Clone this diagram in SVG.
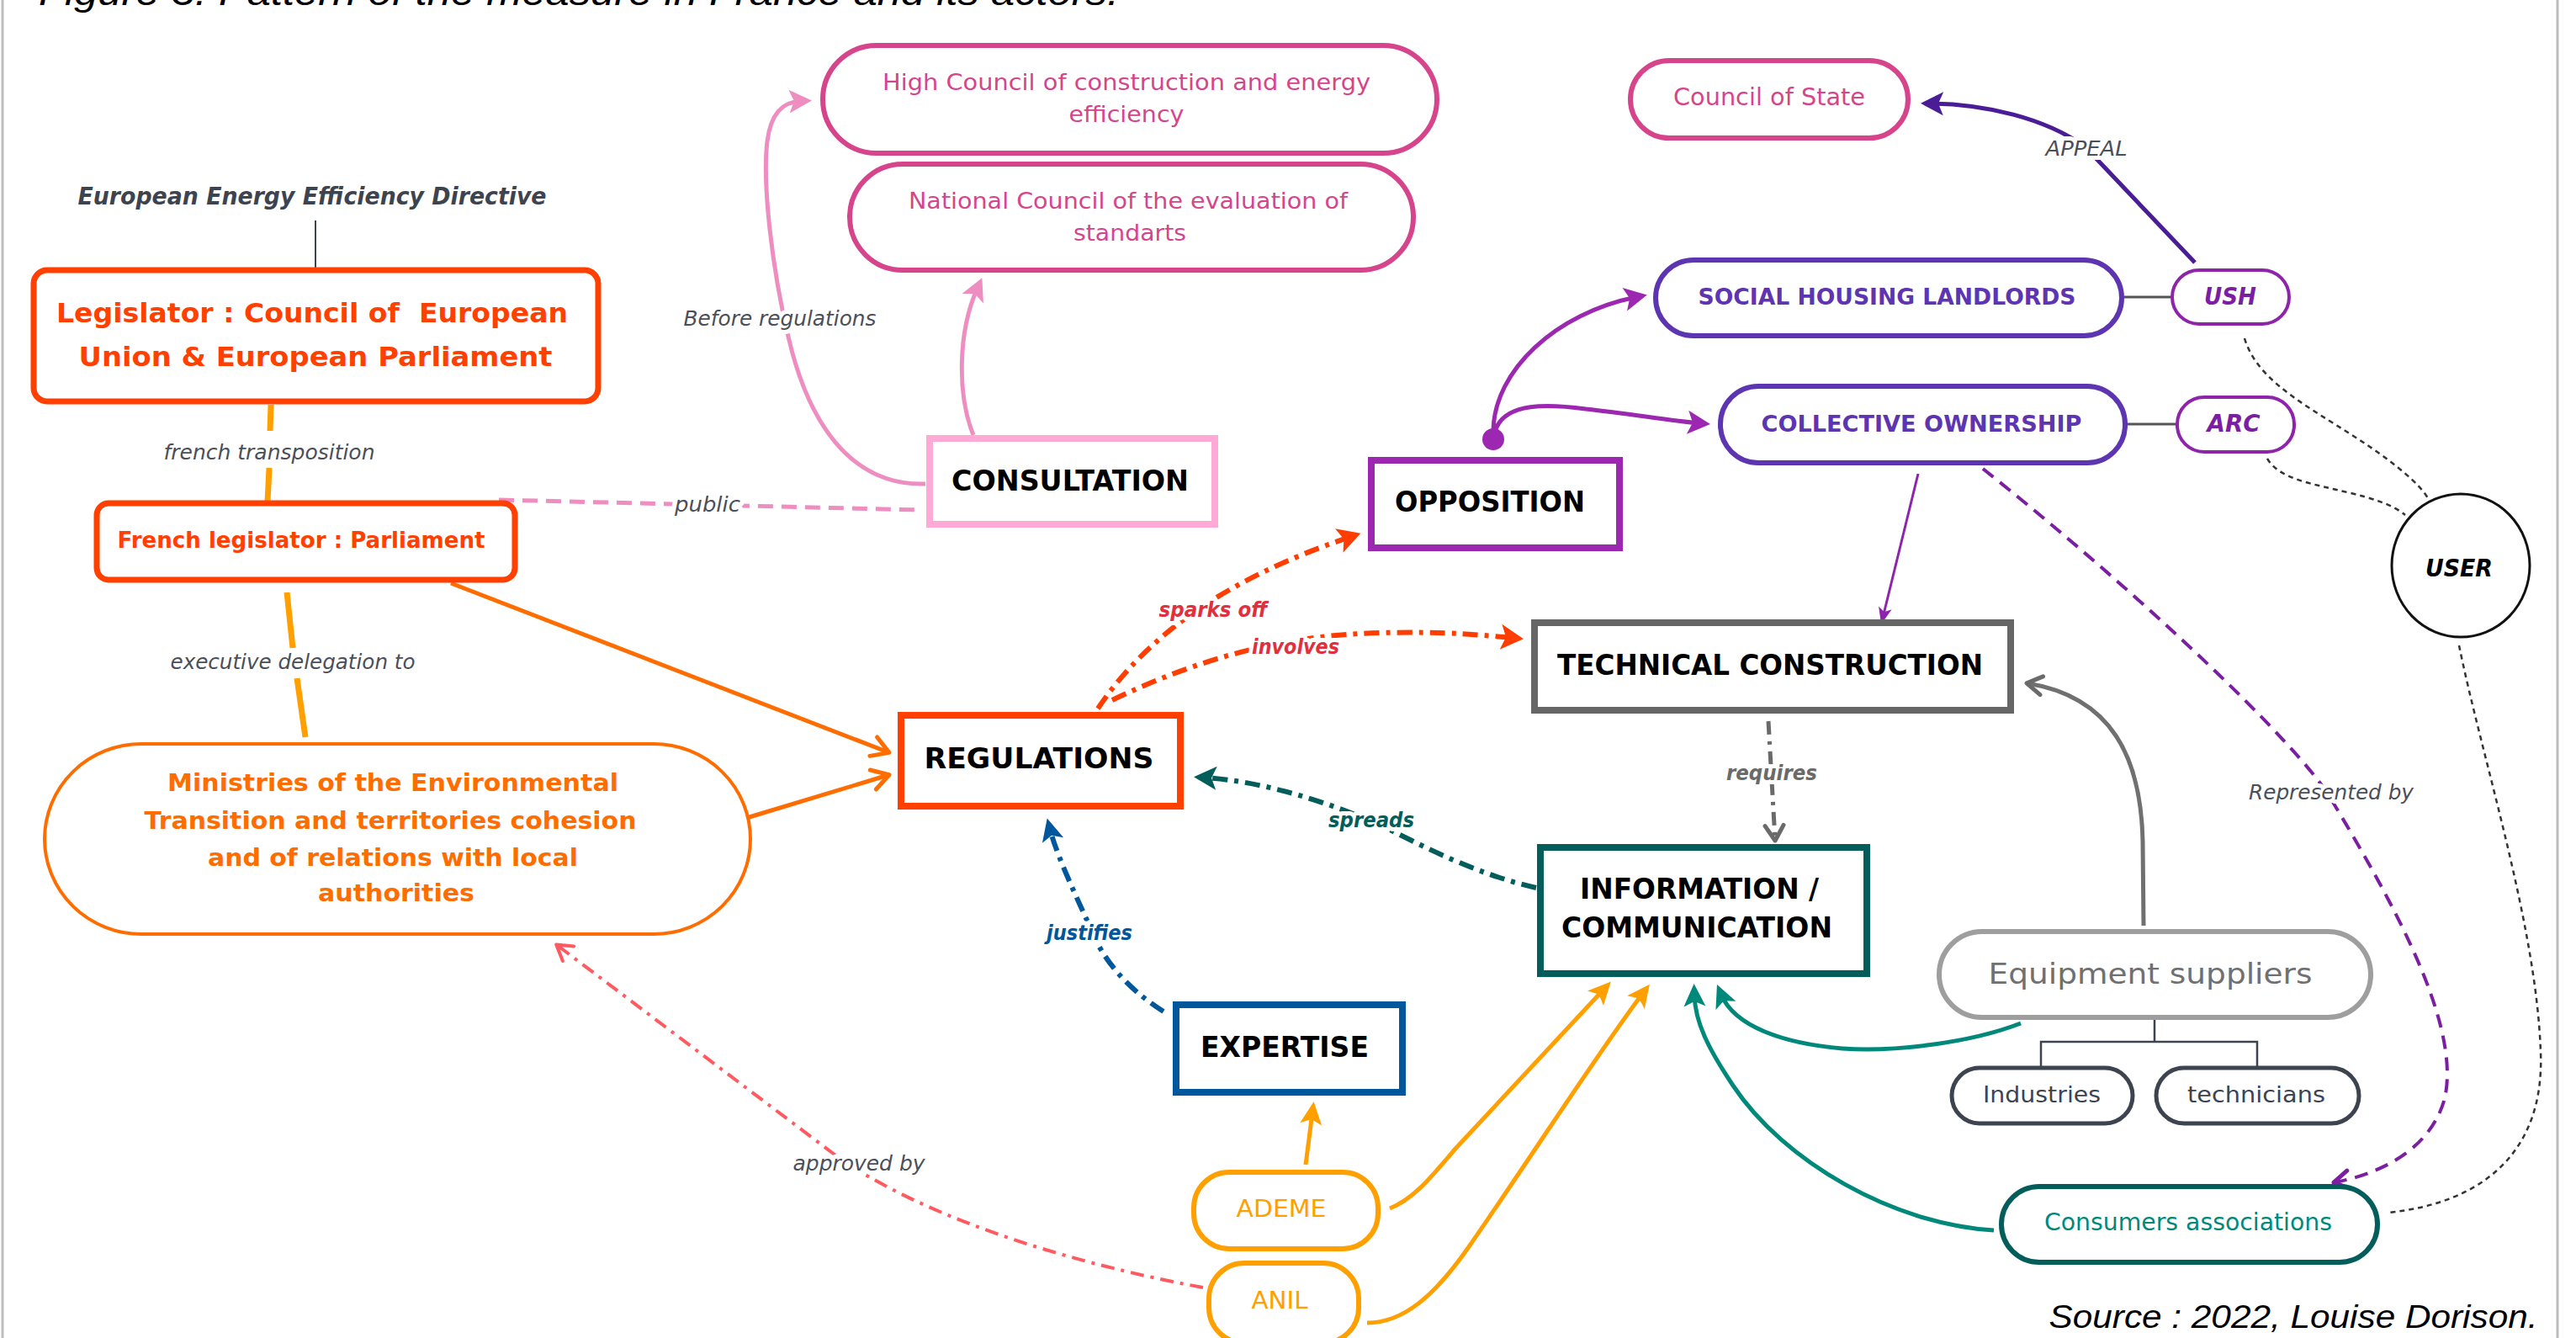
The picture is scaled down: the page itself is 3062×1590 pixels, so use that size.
<svg xmlns="http://www.w3.org/2000/svg" width="3062" height="1590" viewBox="0 0 3062 1590">
<style>
text{font-family:"DejaVu Sans",sans-serif;text-anchor:middle}
.b{font-weight:bold}
.i{font-style:italic}
.lbl{font-style:italic;fill:#4a4f5a;font-size:24px;stroke:#fff;stroke-width:10px;paint-order:stroke;stroke-linejoin:round}
.halo{stroke:#fff;stroke-width:10px;paint-order:stroke;stroke-linejoin:round}
.box{fill:#fff}
.c{fill:none;stroke-linecap:butt}
.dd{stroke-dasharray:18 8 5 8}
.dot{fill:none;stroke:#333;stroke-width:2.5;stroke-dasharray:6 5}
</style>
<defs>
<marker id="chevO" viewBox="-24 -16 30 32" markerWidth="30" markerHeight="32" refX="0" refY="0" orient="auto" markerUnits="userSpaceOnUse"><path d="M-19,-12 L1,0 L-19,12" fill="none" stroke="#ff6d00" stroke-width="5" stroke-linecap="round" stroke-linejoin="round"/></marker>
<marker id="chevG" viewBox="-24 -16 30 32" markerWidth="30" markerHeight="32" refX="0" refY="0" orient="auto" markerUnits="userSpaceOnUse"><path d="M-17,-11 L1,0 L-17,11" fill="none" stroke="#6a6a6a" stroke-width="5" stroke-linecap="round" stroke-linejoin="round"/></marker>
<marker id="chevV" viewBox="-24 -16 30 32" markerWidth="30" markerHeight="32" refX="0" refY="0" orient="auto" markerUnits="userSpaceOnUse"><path d="M-17,-11 L1,0 L-17,11" fill="none" stroke="#7b1fa2" stroke-width="5" stroke-linecap="round" stroke-linejoin="round"/></marker>
<marker id="chevC" viewBox="-24 -16 30 32" markerWidth="30" markerHeight="32" refX="0" refY="0" orient="auto" markerUnits="userSpaceOnUse"><path d="M-17,-11 L1,0 L-17,11" fill="none" stroke="#ff5a5f" stroke-width="4" stroke-linecap="round" stroke-linejoin="round"/></marker>
<marker id="triPink" viewBox="-20 -16 36 32" markerWidth="36" markerHeight="32" refX="0" refY="0" orient="auto" markerUnits="userSpaceOnUse"><path d="M13,0 L-14,-14 L-8,0 L-14,14 Z" fill="#ee8ec0"/></marker>
<marker id="triPur" viewBox="-20 -16 36 32" markerWidth="36" markerHeight="32" refX="0" refY="0" orient="auto" markerUnits="userSpaceOnUse"><path d="M13,0 L-14,-14 L-8,0 L-14,14 Z" fill="#9c27b0"/></marker>
<marker id="triPur2" viewBox="-20 -16 36 32" markerWidth="36" markerHeight="32" refX="0" refY="0" orient="auto" markerUnits="userSpaceOnUse"><path d="M8,0 L-12,-8 L-7,0 L-12,8 Z" fill="#8e24aa"/></marker>
<marker id="triDP" viewBox="-20 -16 36 32" markerWidth="36" markerHeight="32" refX="0" refY="0" orient="auto" markerUnits="userSpaceOnUse"><path d="M13,0 L-14,-14 L-8,0 L-14,14 Z" fill="#4a1d96"/></marker>
<marker id="triRed" viewBox="-20 -16 36 32" markerWidth="36" markerHeight="32" refX="0" refY="0" orient="auto" markerUnits="userSpaceOnUse"><path d="M13,0 L-14,-15 L-8,0 L-14,15 Z" fill="#ff3d00"/></marker>
<marker id="triDT" viewBox="-20 -16 36 32" markerWidth="36" markerHeight="32" refX="0" refY="0" orient="auto" markerUnits="userSpaceOnUse"><path d="M13,0 L-14,-14 L-8,0 L-14,14 Z" fill="#035e5b"/></marker>
<marker id="triBlue" viewBox="-20 -16 36 32" markerWidth="36" markerHeight="32" refX="0" refY="0" orient="auto" markerUnits="userSpaceOnUse"><path d="M13,0 L-14,-13 L-8,0 L-14,13 Z" fill="#01579b"/></marker>
<marker id="triAmb" viewBox="-20 -16 36 32" markerWidth="36" markerHeight="32" refX="0" refY="0" orient="auto" markerUnits="userSpaceOnUse"><path d="M13,0 L-14,-13 L-8,0 L-14,13 Z" fill="#ffa000"/></marker>
<marker id="triTeal" viewBox="-20 -16 36 32" markerWidth="36" markerHeight="32" refX="0" refY="0" orient="auto" markerUnits="userSpaceOnUse"><path d="M13,0 L-14,-13 L-8,0 L-14,13 Z" fill="#00897b"/></marker>
</defs>

<rect width="3062" height="1590" fill="#fff"/>
<line x1="3" y1="0" x2="3" y2="1590" stroke="#bdbdbd" stroke-width="3"/>
<line x1="3040" y1="0" x2="3040" y2="1590" stroke="#bdbdbd" stroke-width="3"/>

<g id="title">
<text x="688" y="6" style="font-family:'Liberation Sans',Arial,sans-serif;font-style:italic;font-size:44px" textLength="1284" lengthAdjust="spacingAndGlyphs" fill="#000">Figure 3. Pattern of the measure in France and its actors.</text>
</g>

<g id="connectors">
<line x1="375" y1="262" x2="375" y2="320" stroke="#3d4450" stroke-width="2"/>
<path class="c" d="M322,481 L321,512 M320,556 L318,597" stroke="#ffa000" stroke-width="7"/>
<path class="c" d="M341,704 L348,770 M353,806 L363,876" stroke="#ffa000" stroke-width="7"/>
<path class="c" d="M593,594 L1094,606" stroke="#ee8ec0" stroke-width="5" stroke-dasharray="18 10"/>
<path class="c" d="M536,693 L1056,894" stroke="#ff6d00" stroke-width="5" marker-end="url(#chevO)"/>
<path class="c" d="M884,973 L1056,921" stroke="#ff6d00" stroke-width="5" marker-end="url(#chevO)"/>
<path class="c" d="M1157,517 C1138,470 1138,395 1162,342" stroke="#ee8ec0" stroke-width="5" marker-end="url(#triPink)"/>
<path class="c" d="M1100,575 C1010,578 960,500 937,400 C918,320 906,220 912,168 C916,135 930,121 952,120" stroke="#ee8ec0" stroke-width="5" marker-end="url(#triPink)"/>
<path class="c" d="M2609,312 L2478,174 C2430,140 2360,124 2296,123" stroke="#4a1d96" stroke-width="5" marker-end="url(#triDP)"/>
<path class="c" d="M1775,512 C1776,440 1850,372 1945,353" stroke="#9c27b0" stroke-width="5" marker-end="url(#triPur)"/>
<path class="c" d="M1778,510 C1790,478 1840,480 1885,486 C1940,492 1985,500 2020,503" stroke="#9c27b0" stroke-width="5" marker-end="url(#triPur)"/>
<path class="c" d="M2280,563 L2238,734" stroke="#8e24aa" stroke-width="3" marker-end="url(#triPur2)"/>
<path class="c" d="M2357,557 C2500,670 2700,850 2765,940 C2850,1080 2925,1220 2906,1305 C2890,1365 2830,1395 2775,1405" stroke="#7b1fa2" stroke-width="4" stroke-dasharray="16 10" marker-end="url(#chevV)"/>
<path class="dot" d="M2668,402 C2685,460 2760,490 2830,540 C2860,562 2880,580 2887,594"/>
<path class="dot" d="M2695,545 C2710,570 2750,575 2790,585 C2820,592 2845,600 2859,612"/>
<path class="dot" d="M2923,767 C2950,900 3015,1100 3020,1250 C3025,1370 2950,1430 2838,1441"/>
<path class="c" d="M2102,857 L2110,998" stroke="#6a6a6a" stroke-width="5" stroke-dasharray="16 8 4 8" marker-end="url(#chevG)"/>
<path class="c" d="M2548,1100 L2547,1000 C2545,900 2510,828 2410,812" stroke="#707070" stroke-width="5" marker-end="url(#chevG)"/>
<path class="c" d="M2402,1216 C2340,1240 2250,1250 2190,1246 C2120,1240 2062,1220 2046,1182" stroke="#00897b" stroke-width="5" marker-end="url(#triTeal)"/>
<path class="c" d="M2370,1462 C2250,1455 2120,1380 2060,1290 C2030,1245 2015,1215 2014,1182" stroke="#00897b" stroke-width="5" marker-end="url(#triTeal)"/>
<path class="c" d="M1652,1436 C1680,1425 1700,1400 1730,1365 L1906,1176" stroke="#ffa000" stroke-width="5" marker-end="url(#triAmb)"/>
<path class="c" d="M1625,1572 C1668,1572 1705,1540 1745,1483 C1820,1375 1900,1250 1953,1180" stroke="#ffa000" stroke-width="5" marker-end="url(#triAmb)"/>
<path class="c" d="M1552,1384 L1560,1322" stroke="#ffa000" stroke-width="5" marker-end="url(#triAmb)"/>
<path class="c dd" d="M1826,1055 C1760,1040 1700,1010 1660,990 C1590,955 1500,928 1432,924" stroke="#035e5b" stroke-width="6" marker-end="url(#triDT)"/>
<path class="c dd" d="M1383,1202 C1340,1175 1310,1140 1295,1100 C1272,1050 1255,1012 1248,985" stroke="#01579b" stroke-width="6" marker-end="url(#triBlue)"/>
<path class="c dd" d="M1305,842 C1360,760 1450,690 1605,638" stroke="#ff3d00" stroke-width="6" marker-end="url(#triRed)"/>
<path class="c dd" d="M1322,832 C1420,785 1520,755 1640,752 C1720,750 1765,755 1798,758" stroke="#ff3d00" stroke-width="6" marker-end="url(#triRed)"/>
<path class="c" d="M1430,1530 C1330,1512 1130,1465 1000,1378 L662,1123" stroke="#ff5a5f" stroke-width="4" stroke-dasharray="16 8 4 8" marker-end="url(#chevC)"/>
<line x1="2522" y1="353" x2="2582" y2="353" stroke="#555" stroke-width="3"/>
<line x1="2526" y1="504" x2="2588" y2="504" stroke="#555" stroke-width="3"/>
<path class="c" d="M2561,1212 L2561,1238 M2426,1267 L2426,1238 L2683,1238 L2683,1267" stroke="#3d4450" stroke-width="2.5"/>
<circle cx="1775" cy="522" r="13" fill="#9c27b0"/>

<text class="lbl" x="320" y="546" textLength="251" lengthAdjust="spacingAndGlyphs">french transposition</text>
<text class="lbl" x="348" y="795" textLength="291" lengthAdjust="spacingAndGlyphs">executive delegation to</text>
<text class="lbl" x="841" y="608" textLength="78" lengthAdjust="spacingAndGlyphs">public</text>
<text class="lbl" x="927" y="387" textLength="229" lengthAdjust="spacingAndGlyphs">Before regulations</text>
<text class="lbl" x="2480" y="185" textLength="97" lengthAdjust="spacingAndGlyphs">APPEAL</text>
<text class="lbl" x="2771" y="950" textLength="196" lengthAdjust="spacingAndGlyphs">Represented by</text>
<text class="lbl" x="1021" y="1391" textLength="157" lengthAdjust="spacingAndGlyphs">approved by</text>
<text class="b i halo" x="2106" y="927" font-size="24" fill="#6a6a6a" textLength="108" lengthAdjust="spacingAndGlyphs">requires</text>
<text class="b i halo" x="1442" y="733" font-size="25" fill="#e0303e" textLength="129" lengthAdjust="spacingAndGlyphs">sparks off</text>
<text class="b i halo" x="1540" y="777" font-size="25" fill="#e0303e" textLength="104" lengthAdjust="spacingAndGlyphs">involves</text>
<text class="b i halo" x="1630" y="983" font-size="25" fill="#035e5b" textLength="102" lengthAdjust="spacingAndGlyphs">spreads</text>
<text class="b i halo" x="1295" y="1117" font-size="25" fill="#01579b" textLength="102" lengthAdjust="spacingAndGlyphs">justifies</text>
</g>

<g id="node-directive">
<text class="b i" x="371" y="243" font-size="28" fill="#3d4450" textLength="557" lengthAdjust="spacingAndGlyphs">European Energy Efficiency Directive</text>
</g>

<g id="node-legislator">
<rect class="box" x="40" y="321" width="671" height="156" rx="16" stroke="#ff4000" stroke-width="7"/>
<text class="b" x="371" y="383" font-size="32" fill="#ff4000" textLength="608" lengthAdjust="spacingAndGlyphs" xml:space="preserve">Legislator : Council of  European</text>
<text class="b" x="375" y="435" font-size="32" fill="#ff4000" textLength="563" lengthAdjust="spacingAndGlyphs">Union &amp; European Parliament</text>
</g>

<g id="node-french-legislator">
<rect class="box" x="115" y="598" width="497" height="91" rx="14" stroke="#ff4000" stroke-width="7"/>
<text class="b" x="358" y="651" font-size="27" fill="#ff4000" textLength="437" lengthAdjust="spacingAndGlyphs">French legislator : Parliament</text>
</g>

<g id="node-ministries">
<rect class="box" x="53" y="884" width="839" height="226" rx="115" ry="115" stroke="#ff6d00" stroke-width="4"/>
<text class="b" x="467" y="940" font-size="29" fill="#ff6d00" textLength="536" lengthAdjust="spacingAndGlyphs">Ministries of the Environmental</text>
<text class="b" x="464" y="985" font-size="29" fill="#ff6d00" textLength="585" lengthAdjust="spacingAndGlyphs">Transition and territories cohesion</text>
<text class="b" x="467" y="1029" font-size="29" fill="#ff6d00" textLength="440" lengthAdjust="spacingAndGlyphs">and of relations with local</text>
<text class="b" x="471" y="1071" font-size="29" fill="#ff6d00" textLength="186" lengthAdjust="spacingAndGlyphs">authorities</text>
</g>

<g id="node-high-council">
<rect class="box" x="978" y="54" width="730" height="128" rx="64" stroke="#d6458b" stroke-width="6"/>
<text x="1339" y="107" font-size="27" fill="#d6458b" textLength="580" lengthAdjust="spacingAndGlyphs">High Council of construction and energy</text>
<text x="1339" y="145" font-size="27" fill="#d6458b" textLength="137" lengthAdjust="spacingAndGlyphs">efficiency</text>
</g>

<g id="node-national-council">
<rect class="box" x="1010" y="195" width="670" height="126" rx="63" stroke="#d6458b" stroke-width="6"/>
<text x="1341" y="248" font-size="27" fill="#d6458b" textLength="522" lengthAdjust="spacingAndGlyphs">National Council of the evaluation of</text>
<text x="1343" y="286" font-size="27" fill="#d6458b" textLength="134" lengthAdjust="spacingAndGlyphs">standarts</text>
</g>

<g id="node-consultation">
<rect class="box" x="1105" y="521" width="339" height="102" stroke="#ffaad6" stroke-width="8"/>
<text class="b" x="1272" y="583" font-size="33" fill="#000" textLength="282" lengthAdjust="spacingAndGlyphs">CONSULTATION</text>
</g>

<g id="node-regulations">
<rect class="box" x="1071" y="850" width="332" height="108" stroke="#ff4000" stroke-width="8"/>
<text class="b" x="1235" y="913" font-size="34" fill="#000" textLength="273" lengthAdjust="spacingAndGlyphs">REGULATIONS</text>
</g>

<g id="node-opposition">
<rect class="box" x="1630" y="547" width="295" height="104" stroke="#9c27b0" stroke-width="8"/>
<text class="b" x="1771" y="608" font-size="33" fill="#000" textLength="226" lengthAdjust="spacingAndGlyphs">OPPOSITION</text>
</g>

<g id="node-council-of-state">
<rect class="box" x="1938" y="72" width="330" height="92" rx="46" stroke="#d6458b" stroke-width="6"/>
<text x="2103" y="125" font-size="29" fill="#d6458b" textLength="228" lengthAdjust="spacingAndGlyphs">Council of State</text>
</g>

<g id="node-social-housing">
<rect class="box" x="1968" y="309" width="554" height="90" rx="45" stroke="#5e35b1" stroke-width="6"/>
<text class="b" x="2243" y="362" font-size="27" fill="#5e35b1" textLength="449" lengthAdjust="spacingAndGlyphs">SOCIAL HOUSING LANDLORDS</text>
</g>

<g id="node-ush">
<rect class="box" x="2582" y="321" width="139" height="64" rx="32" stroke="#8e24aa" stroke-width="4"/>
<text class="b i" x="2651" y="362" font-size="29" fill="#7b1fa2" textLength="62" lengthAdjust="spacingAndGlyphs">USH</text>
</g>

<g id="node-collective-ownership">
<rect class="box" x="2045" y="459" width="481" height="91" rx="45" stroke="#5e35b1" stroke-width="6"/>
<text class="b" x="2284" y="513" font-size="27" fill="#5e35b1" textLength="381" lengthAdjust="spacingAndGlyphs">COLLECTIVE OWNERSHIP</text>
</g>

<g id="node-arc">
<rect class="box" x="2588" y="472" width="139" height="65" rx="32" stroke="#8e24aa" stroke-width="4"/>
<text class="b i" x="2655" y="513" font-size="29" fill="#7b1fa2" textLength="63" lengthAdjust="spacingAndGlyphs">ARC</text>
</g>

<g id="node-user">
<ellipse class="box" cx="2925" cy="672" rx="82" ry="85" stroke="#111" stroke-width="3"/>
<text class="b i" x="2923" y="685" font-size="29" fill="#000" textLength="80" lengthAdjust="spacingAndGlyphs">USER</text>
</g>

<g id="node-technical-construction">
<rect class="box" x="1824" y="740" width="566" height="104" stroke="#666" stroke-width="8"/>
<text class="b" x="2104" y="802" font-size="33" fill="#000" textLength="506" lengthAdjust="spacingAndGlyphs">TECHNICAL CONSTRUCTION</text>
</g>

<g id="node-information">
<rect class="box" x="1831" y="1007" width="388" height="150" stroke="#035e5b" stroke-width="8"/>
<text class="b" x="2020" y="1068" font-size="33" fill="#000" textLength="284" lengthAdjust="spacingAndGlyphs">INFORMATION /</text>
<text class="b" x="2017" y="1114" font-size="33" fill="#000" textLength="322" lengthAdjust="spacingAndGlyphs">COMMUNICATION</text>
</g>

<g id="node-expertise">
<rect class="box" x="1398" y="1194" width="269" height="104" stroke="#01579b" stroke-width="8"/>
<text class="b" x="1527" y="1256" font-size="33" fill="#000" textLength="200" lengthAdjust="spacingAndGlyphs">EXPERTISE</text>
</g>

<g id="node-ademe">
<rect class="box" x="1419" y="1393" width="219" height="91" rx="42" stroke="#ffa000" stroke-width="6"/>
<text x="1523" y="1446" font-size="28" fill="#ffa000" textLength="107" lengthAdjust="spacingAndGlyphs">ADEME</text>
</g>

<g id="node-anil">
<rect class="box" x="1437" y="1501" width="178" height="95" rx="42" stroke="#ffa000" stroke-width="6"/>
<text x="1521" y="1555" font-size="28" fill="#ffa000" textLength="67" lengthAdjust="spacingAndGlyphs">ANIL</text>
</g>

<g id="node-equipment-suppliers">
<rect class="box" x="2305" y="1107" width="513" height="102" rx="51" stroke="#9e9e9e" stroke-width="6"/>
<text x="2556" y="1169" font-size="34" fill="#707070" textLength="385" lengthAdjust="spacingAndGlyphs">Equipment suppliers</text>
</g>

<g id="node-industries">
<rect class="box" x="2320" y="1269" width="215" height="66" rx="33" stroke="#3d4450" stroke-width="5"/>
<text x="2427" y="1310" font-size="27" fill="#3d4450" textLength="140" lengthAdjust="spacingAndGlyphs">Industries</text>
</g>

<g id="node-technicians">
<rect class="box" x="2563" y="1269" width="241" height="66" rx="33" stroke="#3d4450" stroke-width="5"/>
<text x="2682" y="1310" font-size="27" fill="#3d4450" textLength="164" lengthAdjust="spacingAndGlyphs">technicians</text>
</g>

<g id="node-consumers">
<rect class="box" x="2379" y="1410" width="447" height="90" rx="45" stroke="#035e5b" stroke-width="6"/>
<text x="2601" y="1462" font-size="28" fill="#00897b" textLength="342" lengthAdjust="spacingAndGlyphs">Consumers associations</text>
</g>

<g id="source">
<text x="2726" y="1578" style="font-family:'Liberation Sans',Arial,sans-serif;font-style:italic;font-size:39px" textLength="581" lengthAdjust="spacingAndGlyphs" fill="#000">Source : 2022, Louise Dorison.</text>
</g>
</svg>
